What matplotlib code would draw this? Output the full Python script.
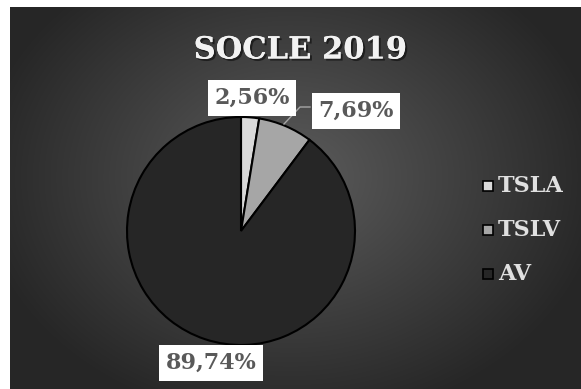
import numpy as np
import matplotlib.pyplot as plt
import matplotlib.patheffects as pe
from matplotlib.patches import Rectangle

categories = ["TSLA", "TSLV", "AV"]
values = [2.56, 7.69, 89.74]
colors = ["#d9d9d9", "#a6a6a6", "#262626"]
title = "SOCLE 2019"

W, H = 581, 389
fig = plt.figure(figsize=(W / 100, H / 100), dpi=100)
fig.patch.set_facecolor("white")

# fond sombre en dégradé radial
bg = fig.add_axes([10 / W, 0, 1 - 10 / W, 382 / H])
yy, xx = np.mgrid[0:382, 0:571]
d = np.hypot((xx - 280) / 330, (yy - 170) / 260)
g = np.clip(0.36 - 0.22 * d, 0.15, 0.36)
bg.imshow(np.dstack([g, g, g]), aspect="auto", interpolation="bilinear")
bg.axis("off")

ax = fig.add_axes([0, 0, 1, 1])

cx, cy, r = 241, H - 231, 114
wedges, _ = ax.pie(values, colors=colors, startangle=90, counterclock=False,
                   center=(cx, cy), radius=r, frame=True,
                   wedgeprops=dict(edgecolor="black", linewidth=1.5))
ax.set_xlim(0, W)
ax.set_ylim(0, H)
ax.set_aspect("equal")
ax.axis("off")

fnt = dict(family="DejaVu Serif", weight="bold")
ax.text(300, H - 50, title, ha="center", va="center", fontsize=22, color="#f2f2f2",
        path_effects=[pe.withSimplePatchShadow(offset=(1.5, -1.5), shadow_rgbFace="black", alpha=0.5),
                      pe.Normal()], **fnt)

lab_pos = [(252, H - 98), (356, H - 111), (211, H - 363)]
box = dict(boxstyle="square,pad=0.3", facecolor="white", edgecolor="none")
for v, (tx, ty) in zip(values, lab_pos):
    ax.text(tx, ty, f"{v:.2f}%".replace(".", ","), ha="center", va="center",
            fontsize=16, color="#595959", bbox=box, **fnt)

# ligne de rappel vers TSLV
ax.plot([284, 300, 310], [H - 124, H - 107, H - 107], color="#a6a6a6", lw=1)

# légende
for i, lab in enumerate(categories):
    y = H - (186 + 44 * i)
    ax.add_patch(Rectangle((483, y - 5), 10, 10, facecolor=colors[i], edgecolor="black", lw=1.2))
    ax.text(498, y, lab, ha="left", va="center", fontsize=16, color="#e0e0e0", **fnt)

fig.savefig("out.png", dpi=100)
